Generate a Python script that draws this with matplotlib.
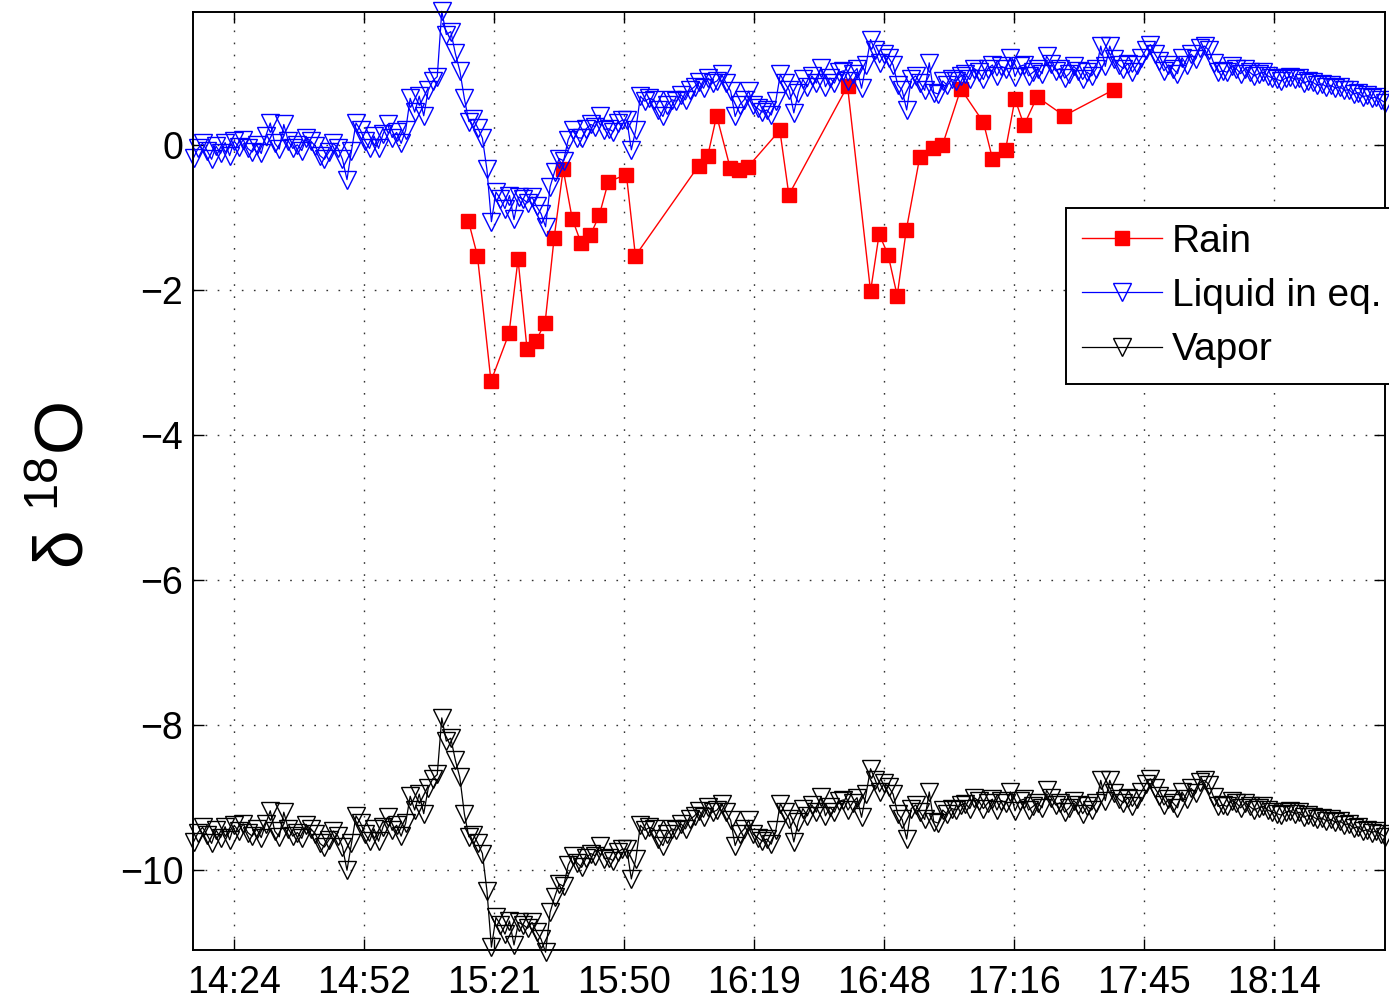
import numpy as np
import matplotlib
matplotlib.use("Agg")
import matplotlib.pyplot as plt

plt.rcParams["font.family"] = ["Liberation Sans", "DejaVu Sans"]
plt.rcParams["mathtext.fontset"] = "custom"
plt.rcParams["mathtext.rm"] = "Liberation Sans"
plt.rcParams["mathtext.default"] = "regular"

# rain samples, time in minutes after midnight
rain_time = [915.9, 917.9, 920.9, 924.9, 926.9, 928.9, 930.9, 932.9, 934.9, 936.9,
             938.9, 940.9, 942.9, 944.9, 946.9, 950.9, 952.9, 966.9, 968.9, 970.9,
             973.9, 975.9, 977.9, 984.9, 986.9, 999.9, 1005.0, 1006.9, 1008.9, 1010.9,
             1012.9, 1015.9, 1018.9, 1020.9, 1025.0, 1030.0, 1032.0, 1034.9, 1037.0, 1039.0,
             1041.9, 1047.9, 1058.9]
rain_d18o = [-1.05, -1.53, -3.26, -2.60, -1.58, -2.82, -2.70, -2.45, -1.28, -0.34,
             -1.02, -1.36, -1.25, -0.97, -0.51, -0.41, -1.53, -0.29, -0.16, 0.40,
             -0.32, -0.35, -0.30, 0.20, -0.69, 0.81, -2.02, -1.23, -1.52, -2.08,
             -1.18, -0.17, -0.05, -0.01, 0.77, 0.31, -0.19, -0.07, 0.63, 0.27,
             0.66, 0.40, 0.76]

# analyser record: one value per minute from 14:15
vapor_start = 855
liquid_d18o = [
    -0.18, -0.05, 0.02, -0.08, -0.20, -0.02, -0.12, 0.03, -0.15, 0.05,
    -0.03, 0.07, -0.05, -0.10, 0.00, -0.12, 0.12, 0.30, 0.02, -0.06,
    0.28, 0.05, -0.05, 0.00, -0.08, 0.10, 0.05, -0.02, -0.15, -0.20,
    -0.10, 0.02, -0.05, -0.20, -0.48, -0.08, 0.30, 0.20, 0.05, -0.05,
    0.12, -0.05, 0.15, 0.28, 0.10, 0.17, 0.02, 0.20, 0.64, 0.45,
    0.67, 0.40, 0.75, 0.88, 0.94, 1.84, 1.52, 1.56, 1.26, 1.02,
    0.64, 0.32, 0.35, 0.23, 0.09, -0.34, -1.06, -0.65, -0.75, -0.88,
    -0.70, -1.03, -0.72, -0.75, -0.80, -0.72, -0.85, -0.95, -1.13, -0.58,
    -0.37, -0.19, -0.22, 0.07, 0.20, 0.10, 0.09, 0.22, 0.28, 0.25,
    0.39, 0.21, 0.22, 0.18, 0.30, 0.34, 0.34, -0.07, 0.21, 0.67,
    0.60, 0.64, 0.62, 0.48, 0.39, 0.55, 0.62, 0.60, 0.69, 0.62,
    0.75, 0.80, 0.87, 0.78, 0.92, 0.85, 0.88, 0.97, 0.85, 0.74,
    0.39, 0.55, 0.62, 0.74, 0.55, 0.50, 0.45, 0.48, 0.41, 0.60,
    0.97, 0.85, 0.75, 0.44, 0.72, 0.90, 0.80, 0.95, 0.85, 1.06,
    0.80, 0.92, 0.85, 1.00, 1.02, 0.88, 0.98, 1.05, 0.78, 1.10,
    1.45, 1.30, 1.13, 1.25, 1.20, 1.10, 0.83, 0.75, 0.48, 0.90,
    0.95, 0.85, 0.75, 1.13, 0.72, 0.70, 0.88, 0.82, 0.90, 0.88,
    0.95, 0.97, 0.90, 1.05, 1.00, 0.90, 1.05, 1.10, 0.95, 1.08,
    1.05, 1.20, 0.94, 1.08, 1.10, 0.95, 1.00, 1.05, 0.98, 1.22,
    1.12, 1.02, 1.05, 0.92, 0.98, 1.08, 1.02, 0.90, 1.00, 0.95,
    1.05, 1.36, 1.08, 1.36, 1.18, 1.10, 1.05, 1.12, 1.00, 1.10,
    1.20, 1.31, 1.38, 1.25, 1.15, 1.02, 1.10, 1.05, 0.98, 1.20,
    1.10, 1.25, 1.18, 1.33, 1.36, 1.30, 1.13, 1.00, 1.02, 1.00,
    1.08, 1.05, 0.98, 1.05, 1.00, 0.95, 0.98, 1.00, 0.95, 0.92,
    0.90, 0.88, 0.92, 0.94, 0.90, 0.92, 0.85, 0.88, 0.86, 0.82,
    0.84, 0.80, 0.82, 0.78, 0.80, 0.75, 0.76, 0.70, 0.72, 0.66,
    0.68, 0.64, 0.66, 0.62, 0.58]
vapor_d18o = [
    -9.61, -9.48, -9.41, -9.51, -9.63, -9.45, -9.55, -9.40, -9.58, -9.38,
    -9.46, -9.36, -9.48, -9.53, -9.43, -9.55, -9.36, -9.18, -9.46, -9.54,
    -9.20, -9.43, -9.53, -9.48, -9.56, -9.38, -9.43, -9.50, -9.63, -9.68,
    -9.58, -9.46, -9.53, -9.68, -10.00, -9.63, -9.25, -9.35, -9.50, -9.60,
    -9.43, -9.60, -9.40, -9.27, -9.45, -9.38, -9.53, -9.35, -8.98, -9.17,
    -8.95, -9.22, -8.87, -8.74, -8.68, -7.90, -8.22, -8.18, -8.48, -8.72,
    -9.22, -9.54, -9.51, -9.63, -9.77, -10.28, -11.06, -10.65, -10.75, -10.88,
    -10.70, -11.03, -10.72, -10.75, -10.80, -10.72, -10.85, -10.95, -11.13, -10.58,
    -10.37, -10.19, -10.22, -9.93, -9.80, -9.90, -9.96, -9.83, -9.77, -9.80,
    -9.66, -9.84, -9.83, -9.87, -9.75, -9.71, -9.71, -10.12, -9.84, -9.38,
    -9.45, -9.41, -9.43, -9.57, -9.66, -9.50, -9.43, -9.45, -9.36, -9.43,
    -9.30, -9.25, -9.18, -9.27, -9.13, -9.20, -9.17, -9.08, -9.20, -9.31,
    -9.66, -9.50, -9.43, -9.31, -9.50, -9.55, -9.60, -9.57, -9.64, -9.45,
    -9.08, -9.20, -9.30, -9.61, -9.33, -9.15, -9.25, -9.10, -9.20, -8.99,
    -9.25, -9.13, -9.20, -9.05, -9.03, -9.17, -9.07, -9.00, -9.27, -8.95,
    -8.60, -8.75, -8.92, -8.80, -8.85, -8.95, -9.22, -9.30, -9.57, -9.15,
    -9.10, -9.20, -9.30, -8.92, -9.33, -9.35, -9.17, -9.23, -9.15, -9.17,
    -9.10, -9.08, -9.15, -9.00, -9.05, -9.15, -9.07, -9.02, -9.17, -9.04,
    -9.07, -8.92, -9.18, -9.04, -9.02, -9.17, -9.12, -9.07, -9.14, -8.90,
    -9.00, -9.10, -9.07, -9.20, -9.14, -9.04, -9.10, -9.22, -9.12, -9.17,
    -9.07, -8.76, -9.04, -8.76, -8.94, -9.02, -9.07, -9.00, -9.12, -9.02,
    -8.92, -8.81, -8.74, -8.87, -8.97, -9.10, -9.02, -9.07, -9.14, -8.92,
    -9.02, -8.87, -8.94, -8.79, -8.76, -8.82, -8.99, -9.12, -9.10, -9.12,
    -9.04, -9.07, -9.14, -9.07, -9.12, -9.17, -9.14, -9.12, -9.17, -9.20,
    -9.22, -9.24, -9.20, -9.18, -9.22, -9.20, -9.27, -9.24, -9.26, -9.30,
    -9.28, -9.32, -9.30, -9.34, -9.32, -9.37, -9.36, -9.42, -9.40, -9.46,
    -9.44, -9.48, -9.46, -9.50, -9.54]

# datetick-style ticks every 0.02 day
tick_time = [864, 892.8, 921.6, 950.4, 979.2, 1008, 1036.8, 1065.6, 1094.4]
tick_labels = ["14:24", "14:52", "15:21", "15:50", "16:19", "16:48", "17:16", "17:45", "18:14"]
ytick_values = [-10, -8, -6, -4, -2, 0]

vapor_time = vapor_start + np.arange(len(vapor_d18o))

fig = plt.figure(figsize=(13.89, 10.01), dpi=100)
ax = fig.add_axes([0.139, 0.0509, 0.8582, 0.9371])

ax.plot(rain_time, rain_d18o, "-s", color="red", lw=1.0, ms=9.5, mfc="red", mec="red",
        label="Rain", clip_on=False)
ax.plot(vapor_time, liquid_d18o, "-v", color="blue", lw=0.9, ms=13.5, mfc="none", mew=1.0,
        label="Liquid in eq.", clip_on=False)
ax.plot(vapor_time, vapor_d18o, "-v", color="black", lw=0.9, ms=13.5, mfc="none", mew=1.0,
        label="Vapor", clip_on=False)

ax.set_xlim(854.9, 1119.0)
ax.set_ylim(-11.10, 1.83)
ax.set_xticks(tick_time)
ax.set_xticklabels(tick_labels)
ax.set_yticks(ytick_values)
ax.tick_params(direction="in", length=8, width=1, top=True, right=True, labelsize=27)
ax.tick_params(axis="x", pad=11)
ax.tick_params(axis="y", pad=7)
ax.grid(True, linestyle=(0, (1.2, 7.5)), color="0.2", linewidth=1)
for s in ax.spines.values():
    s.set_linewidth(1.4)

fig.text(0.047, 0.5155, "δ $^{18}$O", rotation=90, ha="center", va="center", fontsize=50)

leg = ax.legend(loc="upper left", bbox_to_anchor=(0.7675, 0.7922), bbox_transform=fig.transFigure,
                fontsize=28, fancybox=False, framealpha=1, edgecolor="black", borderaxespad=0,
                handlelength=2.06, handletextpad=0.26, labelspacing=0.47, borderpad=0.4,
                numpoints=1)
leg.get_frame().set_linewidth(1.4)

fig.savefig("out.png", dpi=100)
